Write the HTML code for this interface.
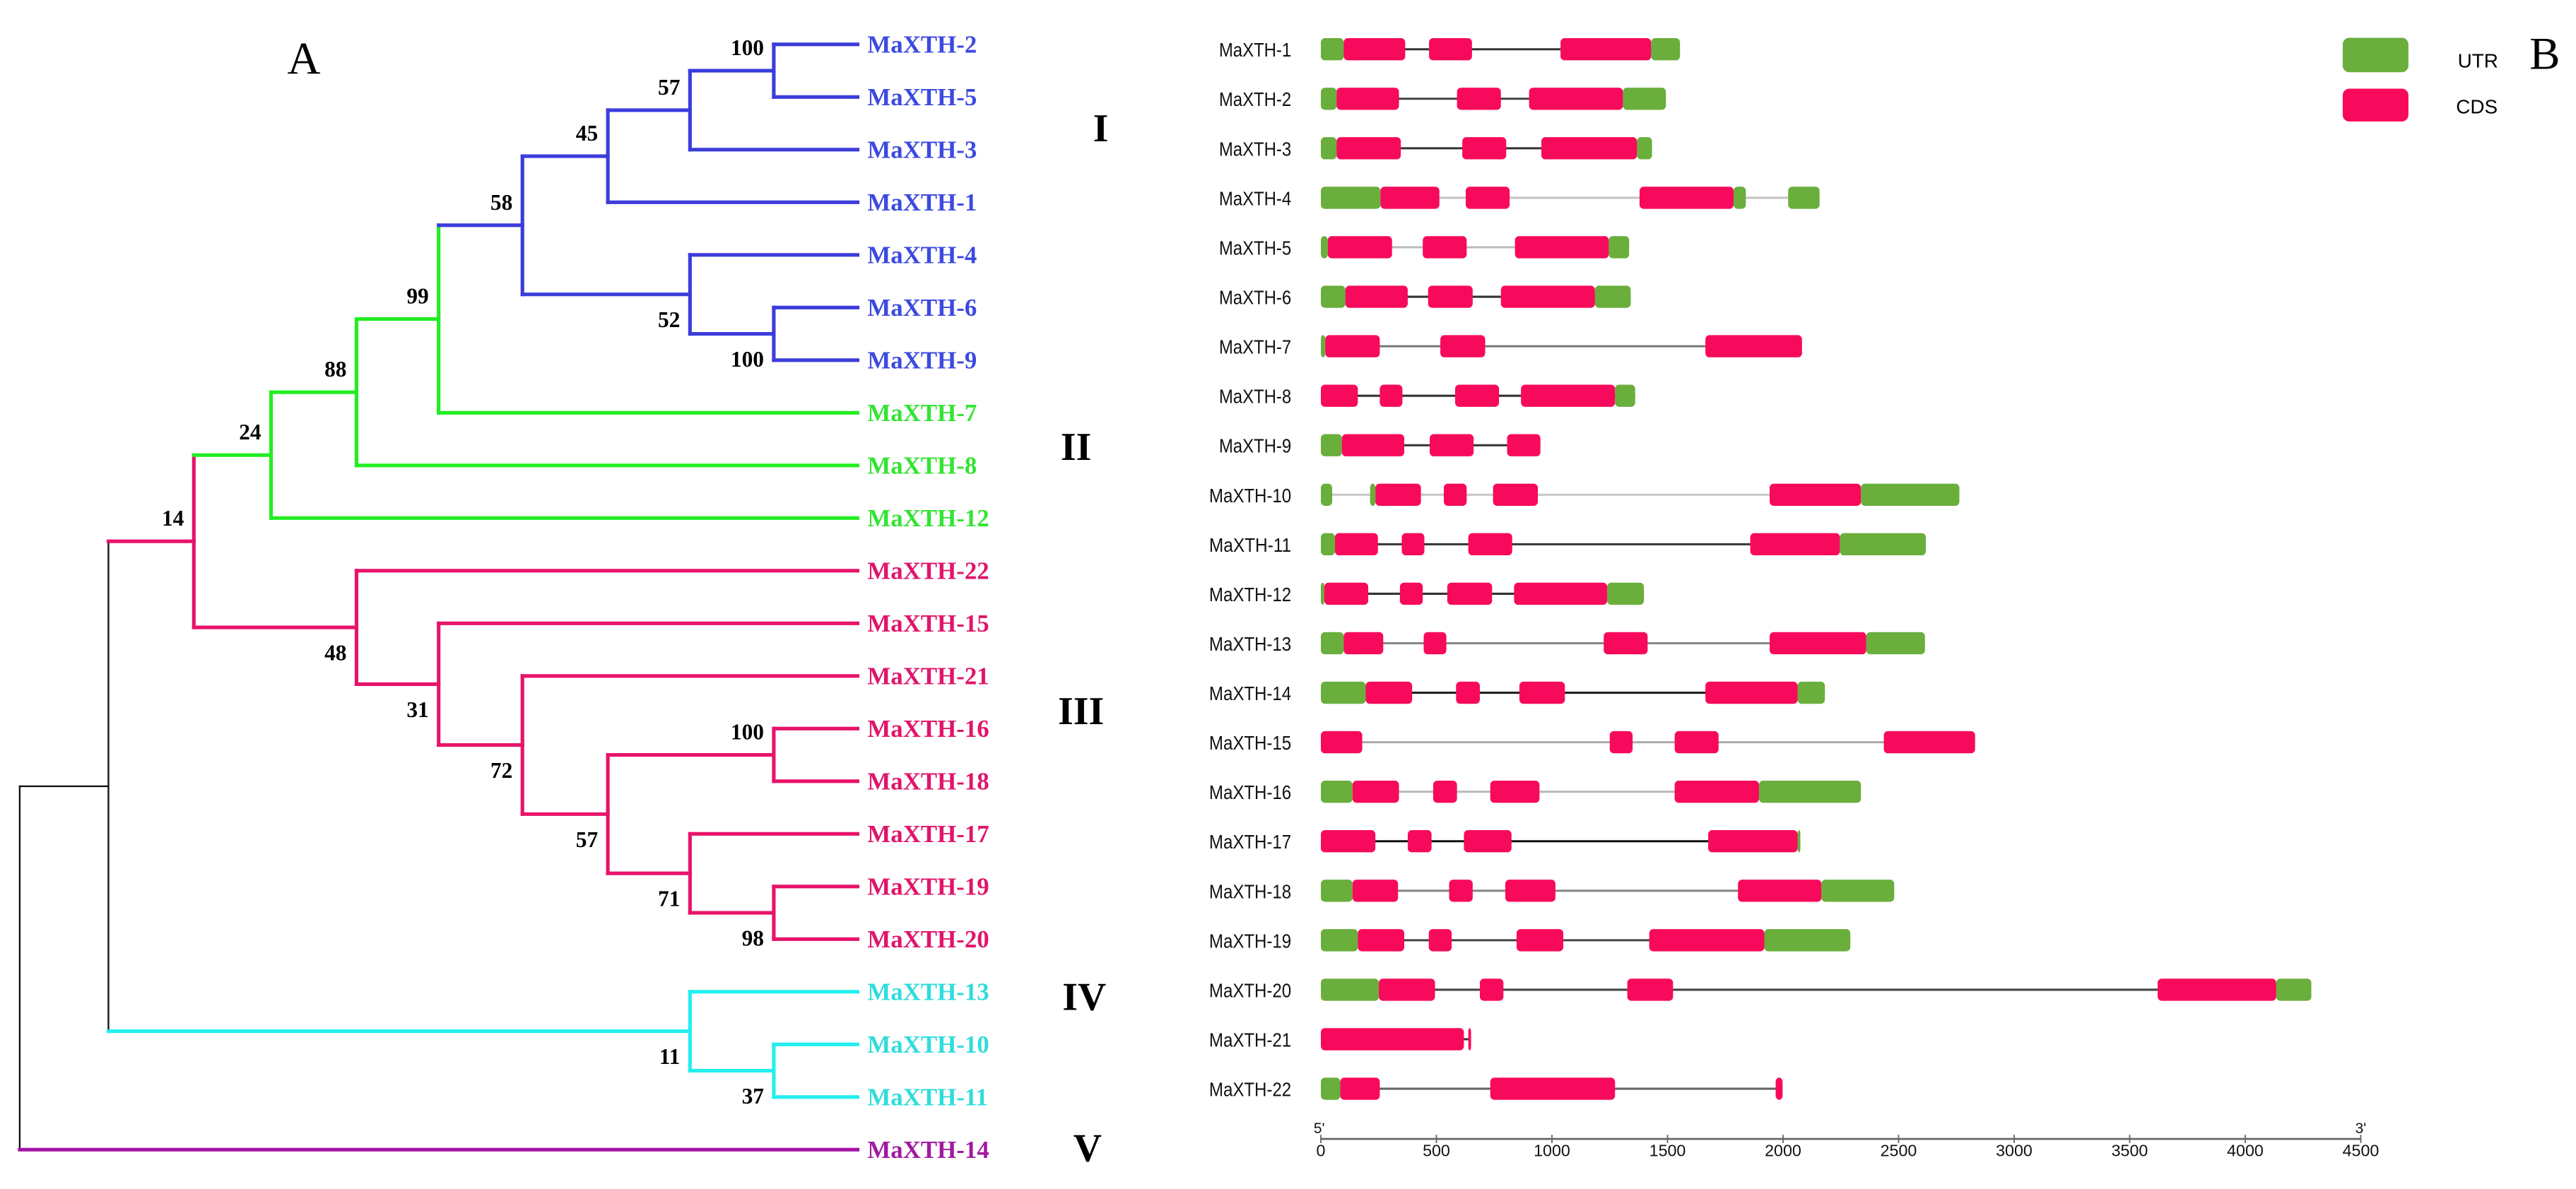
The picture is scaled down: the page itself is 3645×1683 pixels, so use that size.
<!DOCTYPE html>
<html><head><meta charset="utf-8"><title>MaXTH phylogeny and gene structure</title>
<style>
html,body{margin:0;padding:0;background:#fff;}
svg{display:block;}
</style></head>
<body>
<svg id="fig" xmlns="http://www.w3.org/2000/svg" width="3645" height="1683" viewBox="0 0 1568 724" preserveAspectRatio="none">
  <rect x="0" y="0" width="1568" height="724" fill="#fff"/>
  <g id="tree"></g>
  <g id="genes"></g>
  <text x="185" y="45" font-family="Liberation Serif, serif" font-size="28" text-anchor="middle">A</text>
  <text x="1549" y="42" font-family="Liberation Serif, serif" font-size="28" text-anchor="middle">B</text>
  <g font-family="Liberation Serif, serif" font-size="24" font-weight="bold" text-anchor="middle">
    <text x="670" y="86">I</text>
    <text x="655" y="280">II</text>
    <text x="658" y="441">III</text>
    <text x="660" y="615">IV</text>
    <text x="662" y="707">V</text>
  </g>
  <g>
    <rect x="1426" y="23" width="40" height="21" rx="4" fill="#6aae3c"/>
    <text x="1496" y="41" font-family="Liberation Sans, sans-serif" font-size="12">UTR</text>
    <rect x="1426" y="54" width="40" height="20" rx="4" fill="#f70a5c"/>
    <text x="1495" y="69" font-family="Liberation Sans, sans-serif" font-size="12">CDS</text>
  </g>
</svg>
<script>
// ---------- Tree data ----------
const leafNames = ["MaXTH-2","MaXTH-5","MaXTH-3","MaXTH-1","MaXTH-4","MaXTH-6","MaXTH-9","MaXTH-7","MaXTH-8","MaXTH-12","MaXTH-22","MaXTH-15","MaXTH-21","MaXTH-16","MaXTH-18","MaXTH-17","MaXTH-19","MaXTH-20","MaXTH-13","MaXTH-10","MaXTH-11","MaXTH-14"];
const leafClade = ["I","I","I","I","I","I","I","II","II","II","III","III","III","III","III","III","III","III","IV","IV","IV","V"];
// internal nodes: id, depth position, children, bootstrap, label side, clade
const nodeIds   = ["nA","nB","nC","nD","nE","nF","nG","nH","nI","nJ","nK","nL","nM","nN","nO","nP","nQ","nR","nS","nT","root"];
const nodeDepth = [471,420,370,471,420,318,267,217,165,471,471,420,370,318,267,217,118,471,420,66,12];
const nodeKids  = [["MaXTH-2","MaXTH-5"],["nA","MaXTH-3"],["nB","MaXTH-1"],["MaXTH-6","MaXTH-9"],["MaXTH-4","nD"],["nC","nE"],["nF","MaXTH-7"],["nG","MaXTH-8"],["nH","MaXTH-12"],["MaXTH-16","MaXTH-18"],["MaXTH-19","MaXTH-20"],["MaXTH-17","nK"],["nJ","nL"],["MaXTH-21","nM"],["MaXTH-15","nN"],["MaXTH-22","nO"],["nI","nP"],["MaXTH-10","MaXTH-11"],["MaXTH-13","nR"],["nQ","nS"],["nT","MaXTH-14"]];
const nodeSupport = ["100","57","45","100","52","58","99","88","24","100","98","71","57","72","31","48","14","37","11","",""];
const nodeSide  = ["a","a","a","b","b","a","a","a","a","a","b","b","b","b","b","b","a","b","b","a","a"];
const nodeClade = ["I","I","I","I","I","I","II","II","II","III","III","III","III","III","III","III","III","IV","IV","root","root"];

const cladeColor = {I:"#3c3cdc", II:"#22ee22", III:"#e8136a", IV:"#22eeee", V:"#a415a4", root:"#111"};
const labelColor = {I:"#3c4ae0", II:"#33e433", III:"#e0156a", IV:"#2fdcdc", V:"#a01aa0"};

const SVGNS = "http://www.w3.org/2000/svg";
const tree = document.getElementById("tree");
const leafTop = 27, leafStep = 32.05, leafEnd = 522;
function yLeaf(i){ return leafTop + i*leafStep; }

const pos = {}; // id -> {x,y,clade}
leafNames.forEach((n,i)=>{ pos[n] = {x:leafEnd, y:yLeaf(i), clade:leafClade[i]}; });
function resolve(id){
  if (pos[id]) return pos[id];
  const k = nodeIds.indexOf(id);
  const ys = nodeKids[k].map(c=>resolve(c).y);
  pos[id] = {x:nodeDepth[k], y:(Math.min(...ys)+Math.max(...ys))/2, clade:nodeClade[k]};
  return pos[id];
}
nodeIds.forEach(resolve);

function line(x1,y1,x2,y2,color,w){
  const l = document.createElementNS(SVGNS,"line");
  l.setAttribute("x1",x1); l.setAttribute("y1",y1); l.setAttribute("x2",x2); l.setAttribute("y2",y2);
  l.setAttribute("stroke",color); l.setAttribute("stroke-width",w); l.setAttribute("stroke-linecap","square");
  tree.appendChild(l);
  return l;
}
nodeIds.forEach((id,k)=>{
  const p = pos[id];
  const kids = nodeKids[k].map(c=>pos[c]);
  const ys = kids.map(c=>c.y);
  const vc = cladeColor[p.clade];
  const vw = p.clade==="root" ? 1 : 2.2;
  const v = line(p.x, Math.min(...ys), p.x, Math.max(...ys), vc, vw);
  
  
  nodeKids[k].forEach(cid=>{
    const c = pos[cid];
    const hc = cladeColor[c.clade];
    const hw = (c.clade==="root") ? 1 : 2.2;
    const h = line(p.x, c.y, c.x, c.y, hc, hw);
    
    
  });
  if (nodeSupport[k]) {
    const t = document.createElementNS(SVGNS,"text");
    t.setAttribute("x", p.x-6);
    t.setAttribute("y", p.y + (nodeSide[k]==="a" ? -9.5 : 20));
    t.setAttribute("text-anchor","end");
    t.setAttribute("font-family","Liberation Serif, serif");
    t.setAttribute("font-size","13.5");
    t.setAttribute("font-weight","bold");
    t.textContent = nodeSupport[k];
    
    
    tree.appendChild(t);
  }
});
leafNames.forEach((n,i)=>{
  const t = document.createElementNS(SVGNS,"text");
  t.setAttribute("x", 528);
  t.setAttribute("y", yLeaf(i)+5);
  t.setAttribute("font-family","Liberation Serif, serif");
  t.setAttribute("font-size","15");
  t.setAttribute("font-weight","bold");
  t.setAttribute("fill", labelColor[leafClade[i]]);
  t.textContent = n;
  
  
  tree.appendChild(t);
});

// ---------- Gene structure data ----------
const geneNames = ["MaXTH-1","MaXTH-2","MaXTH-3","MaXTH-4","MaXTH-5","MaXTH-6","MaXTH-7","MaXTH-8","MaXTH-9","MaXTH-10","MaXTH-11","MaXTH-12","MaXTH-13","MaXTH-14","MaXTH-15","MaXTH-16","MaXTH-17","MaXTH-18","MaXTH-19","MaXTH-20","MaXTH-21","MaXTH-22"];
const geneUTR = [
 [[0,99],[1429,1554]],
 [[0,68],[1307,1493]],
 [[0,68],[1368,1433]],
 [[0,258],[1786,1839],[2022,2158]],
 [[0,30],[1246,1334]],
 [[0,106],[1186,1341]],
 [[0,19]],
 [[1273,1360]],
 [[0,91]],
 [[0,49],[213,236],[2337,2763]],
 [[0,61],[2246,2618]],
 [[0,15],[1239,1398]],
 [[0,99],[2360,2614]],
 [[0,194],[2063,2181]],
 [],
 [[0,137],[1896,2337]],
 [[2063,2075]],
 [[0,137],[2166,2481]],
 [[0,160],[1919,2291]],
 [[0,251],[4134,4286]],
 [],
 [[0,84]]
];
const geneCDS = [
 [[99,365],[468,654],[1037,1429]],
 [[68,338],[589,779],[901,1307]],
 [[68,346],[612,802],[954,1368]],
 [[258,513],[627,817],[1379,1786]],
 [[30,308],[441,631],[840,1246]],
 [[106,376],[464,657],[779,1186]],
 [[19,255],[517,711],[1664,2082]],
 [[0,160],[255,353],[581,771],[866,1273]],
 [[91,361],[471,661],[806,950]],
 [[236,433],[532,631],[745,939],[1942,2337]],
 [[61,247],[350,448],[638,828],[1858,2246]],
 [[15,205],[342,441],[547,741],[836,1239]],
 [[99,270],[445,543],[1224,1414],[1942,2360]],
 [[194,395],[585,688],[859,1056],[1664,2063]],
 [[0,179],[1250,1349],[1531,1721],[2436,2831]],
 [[137,338],[486,589],[733,946],[1531,1896]],
 [[0,236],[376,479],[619,825],[1676,2063]],
 [[137,334],[555,657],[798,1015],[1805,2166]],
 [[160,361],[467,566],[847,1049],[1421,1919]],
 [[251,494],[688,790],[1326,1524],[3621,4134]],
 [[0,619],[638,650]],
 [[84,255],[733,1273],[1968,1998]]
];
const intronShade = ["#333","#444","#333","#c4c4c4","#bbb","#333","#777","#333","#333","#c8c8c8","#333","#333","#888","#222","#aaa","#bbb","#111","#888","#444","#444","#333","#666"];
const axisTicks = [0,500,1000,1500,2000,2500,3000,3500,4000,4500];
const axisTickLabels = ["0","500","1000","1500","2000","2500","3000","3500","4000","4500"];

const genes = document.getElementById("genes");
const x0 = 804, xMaxBp = 4500, x1 = 1437;
function xs(bp){ return x0 + (bp/xMaxBp)*(x1-x0); }
const rowTop = 30, rowStep = 30.14, boxH = 13.5;
function yRow(i){ return rowTop + i*rowStep; }

function el(tag, attrs, parent){
  const e = document.createElementNS(SVGNS, tag);
  for (const k in attrs) e.setAttribute(k, attrs[k]);
  parent.appendChild(e);
  return e;
}
geneNames.forEach((g,i)=>{
  const grp = el("g",{},genes);
  
  
  const y = yRow(i);
  const segs = geneUTR[i].concat(geneCDS[i]);
  const len = Math.max(...segs.map(s=>s[1]));
  const intr = el("line",{x1:xs(0),y1:y,x2:xs(len),y2:y,stroke:intronShade[i],"stroke-width":1.3},grp);
  
  
  geneUTR[i].forEach((s,j)=>{
    const r = el("rect",{x:xs(s[0]),y:y-boxH/2,width:Math.max(1,xs(s[1])-xs(s[0])),height:boxH,rx:2.5,fill:"#6aae3c"},grp);
    
    
  });
  geneCDS[i].forEach((s,j)=>{
    const r = el("rect",{x:xs(s[0]),y:y-boxH/2,width:Math.max(1,xs(s[1])-xs(s[0])),height:boxH,rx:2.5,fill:"#f70a5c"},grp);
    
    
  });
  const t = el("text",{x:786,y:y+4.5,"text-anchor":"end","font-family":"Liberation Sans, sans-serif","font-size":"12",textLength:(g.length>7?50:44),lengthAdjust:"spacingAndGlyphs",fill:"#111"},grp);
  t.textContent = g;
  
  
});
// axis
const ax = el("g",{},genes);


const axl = el("line",{x1:xs(0),y1:693.5,x2:xs(xMaxBp),y2:693.5,stroke:"#666","stroke-width":1.2},ax);


axisTicks.forEach((v,i)=>{
  const tk = el("line",{x1:xs(v),y1:691,x2:xs(v),y2:696,stroke:"#666","stroke-width":0.8},ax);
  
  
  const tl = el("text",{x:xs(v),y:704,"text-anchor":"middle","font-family":"Liberation Sans, sans-serif","font-size":"10",fill:"#111"},ax);
  tl.textContent = axisTickLabels[i];
  
  
});
const p5 = el("text",{x:xs(0)-1,y:690,"text-anchor":"middle","font-family":"Liberation Sans, sans-serif","font-size":"9",fill:"#111"},ax);
p5.textContent = "5'";


const p3 = el("text",{x:xs(xMaxBp),y:690,"text-anchor":"middle","font-family":"Liberation Sans, sans-serif","font-size":"9",fill:"#111"},ax);
p3.textContent = "3'";


</script>
</body></html>
